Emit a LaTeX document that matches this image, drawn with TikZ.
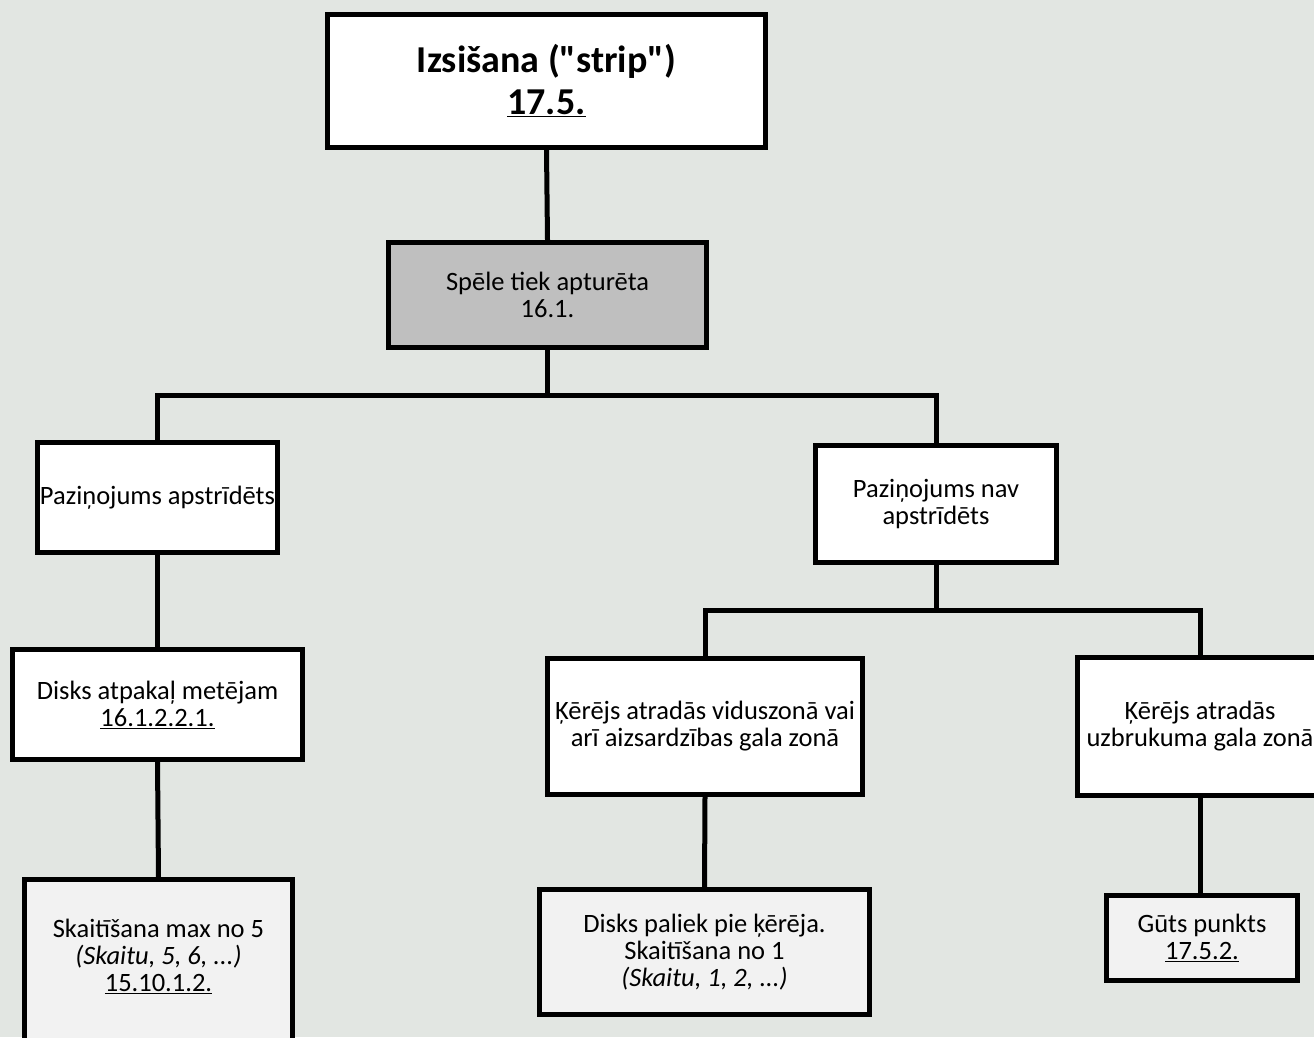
\documentclass[tikz,border=0pt]{standalone}
\usepackage{fontspec}
\setmainfont{Carlito}
\definecolor{bg}{HTML}{E2E6E2}
\definecolor{midgray}{HTML}{BFBFBF}
\definecolor{pale}{HTML}{F2F2F2}
% straight double quote, set as a glyph so the TeX mapping leaves it alone
\newcommand{\sq}{\XeTeXglyph\XeTeXcharglyph"22\relax}
\begin{document}
\begin{tikzpicture}[x=1pt,y=-1pt,
  box/.style={draw=black, line width=5pt, fill=white, rectangle, inner sep=0pt,
    align=center, font=\fontsize{26.5}{27}\selectfont},
  txt/.style={inner sep=0pt, align=center, font=\fontsize{26.5}{27}\selectfont},
  link/.style={draw=black, line width=5pt}]
\useasboundingbox (0,0) rectangle (1314,1037);
\clip (0,0) rectangle (1314,1037);
\fill[bg] (0,0) rectangle (1314,1037);

% top level
\node[box, minimum width=438, minimum height=133,
  font=\fontsize{38}{42}\selectfont\bfseries] (top) at (546.5,81)
  {Izsišana (\sq strip\sq)\\\underline{17.5.}};
\node[box, fill=midgray, minimum width=318, minimum height=105] (stop) at (547.5,295)
  {Spēle tiek apturēta\\16.1.};

% second level
\node[box, minimum width=240, minimum height=110] (contest) at (157.5,497.5)
  {Paziņojums apstrīdēts};
\node[box, minimum width=241, minimum height=117] (nocontest) at (936,504)
  {Paziņojums nav\\apstrīdēts};

% left branch
\node[box, minimum width=290, minimum height=110] (back) at (157.5,704.5)
  {Disks atpakaļ metējam\\\underline{16.1.2.2.1.}};
\node[box, fill=pale, minimum width=268, minimum height=200] (count5) at (158.5,979.5) {};
\node[txt] (count5text) at (158.5,956)
  {Skaitīšana max no 5\\\textit{(Skaitu, 5, 6, ...)}\\\underline{15.10.1.2.}};

% right branch
\node[box, minimum width=315, minimum height=136] (midzone) at (705,726.5)
  {Ķērējs atradās viduszonā vai\\arī aizsardzības gala zonā};
\node[box, fill=pale, minimum width=330, minimum height=125] (count1) at (704.5,952)
  {Disks paliek pie ķērēja.\\Skaitīšana no 1\\\textit{(Skaitu, 1, 2, ...)}};
\node[box, minimum width=245, minimum height=138] (endzone) at (1200,726.5)
  {Ķērējs atradās\\uzbrukuma gala zonā};
\node[box, fill=pale, minimum width=191, minimum height=85] (goal) at (1202,938)
  {Gūts punkts\\\underline{17.5.2.}};

% connectors
\draw[link] (top.south) -- (stop.north);
\draw[link] (stop.south) -- ++(0,45) coordinate (j1);
\draw[link] (contest.north) |- (j1) -| (nocontest.north);
\draw[link] (contest.south) -- (back.north);
\draw[link] (back.south) -- (count5.north);
\draw[link] (nocontest.south) -- ++(0,45) coordinate (j2);
\draw[link] (midzone.north) |- (j2) -| (endzone.north);
\draw[link] (midzone.south) -- (count1.north);
\draw[link] (endzone.south) -- (endzone.south |- goal.north);
\end{tikzpicture}
\end{document}
